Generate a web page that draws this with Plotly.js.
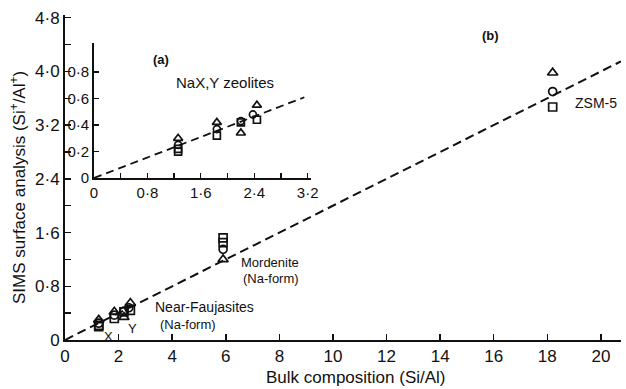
<!DOCTYPE html>
<html><head><meta charset="utf-8">
<script src="https://cdn.plot.ly/plotly-3.0.1.min.js"></script>
<style>html,body{margin:0;padding:0;background:#fff}#chart{width:626px;height:389px}</style>
</head><body><div id="chart"></div>
<script>
// Inset (a): NaX,Y zeolites
const insetTriX = [1.26, 1.84, 2.20, 2.44];
const insetTriY = [0.30, 0.42, 0.34, 0.55];
const insetCirX = [1.26, 1.84, 2.20, 2.38];
const insetCirY = [0.25, 0.37, 0.43, 0.48];
const insetSqX  = [1.26, 1.26, 1.84, 2.20, 2.44];
const insetSqY  = [0.22, 0.20, 0.32, 0.42, 0.44];
const insetFitX = [0, 3.15];
const insetFitY = [0, 0.61];

// Main (b)
const mordX = [5.9, 5.9, 5.9, 5.9];
const mordTriY = [1.20];
const mordCirY = [1.35];
const mordSqY = [1.45, 1.52];
const zsmX = 18.2;
const zsmTriY = [3.98];
const zsmCirY = [3.70];
const zsmSqY = [3.47];
const fitX = [0, 20.75];
const fitY = [0, 4.15];

const mainXTicks = [0,2,4,6,8,10,12,14,16,18,20];
const mainYTicks = [0,0.4,0.8,1.2,1.6,2.0,2.4,2.8,3.2,3.6,4.0,4.4,4.8];
const mainYText  = ['0','','0·8','','1·6','','2·4','','3·2','','4·0','','4·8'];
const insetXTicks = [0,0.4,0.8,1.2,1.6,2.0,2.4,2.8,3.2];
const insetXText  = ['0','','0·8','','1·6','','2·4','','3·2'];
const insetYTicks = [0,0.2,0.4,0.6,0.8];
const insetYText  = ['0','0·2','0·4','0·6','0·8'];

const FONT = 'Liberation Sans, DejaVu Sans, sans-serif';
const NARROW = 'Liberation Sans Narrow, Liberation Sans, sans-serif';
const black = '#111';
function mk(sym, size){ return {symbol: sym, size: size, color: black, line: {color: black, width: 1.7}}; }

const triX = insetTriX.concat([mordX[0], zsmX]);
const triY = insetTriY.concat(mordTriY, zsmTriY);
const cirX = insetCirX.concat([mordX[1], zsmX]);
const cirY = insetCirY.concat(mordCirY, zsmCirY);
const sqX = insetSqX.concat([mordX[2], mordX[3], zsmX]);
const sqY = insetSqY.concat(mordSqY, zsmSqY);

const traces = [
  {x: fitX, y: fitY, mode: 'lines', line: {color: black, width: 2, dash: '9px,5px'}, xaxis: 'x', yaxis: 'y', hoverinfo: 'skip'},
  {x: triX, y: triY, mode: 'markers', marker: mk('triangle-up-open', 9), xaxis: 'x', yaxis: 'y'},
  {x: cirX, y: cirY, mode: 'markers', marker: mk('circle-open', 8), xaxis: 'x', yaxis: 'y'},
  {x: sqX, y: sqY, mode: 'markers', marker: mk('square-open', 8), xaxis: 'x', yaxis: 'y'},
  {x: insetFitX, y: insetFitY, mode: 'lines', line: {color: black, width: 1.8, dash: '8px,5px'}, xaxis: 'x2', yaxis: 'y2'},
  {x: insetTriX, y: insetTriY, mode: 'markers', marker: mk('triangle-up-open', 8), xaxis: 'x2', yaxis: 'y2'},
  {x: insetCirX, y: insetCirY, mode: 'markers', marker: mk('circle-open', 7), xaxis: 'x2', yaxis: 'y2'},
  {x: insetSqX, y: insetSqY, mode: 'markers', marker: mk('square-open', 7), xaxis: 'x2', yaxis: 'y2'}
];

// pixel -> paper helpers (plot area: x 65..621, y 15..340)
const L = 65, R = 621, T = 15, B = 340;
const px = x => (x - L) / (R - L);
const py = y => (B - y) / (B - T);
function ann(text, x, y, size, opts){
  return Object.assign({text: text, x: px(x), y: py(y), xref: 'paper', yref: 'paper', showarrow: false,
    font: {family: FONT, size: size, color: black}, xanchor: 'center', yanchor: 'middle'}, opts || {});
}

const layout = {
  width: 626, height: 389,
  margin: {l: L, r: 626 - R, t: T, b: 389 - B},
  paper_bgcolor: '#fff', plot_bgcolor: '#fff',
  showlegend: false,
  font: {family: FONT, color: black, size: 14},
  xaxis: {range: [0, 20.75], showgrid: false, zeroline: false, showline: true, linecolor: black, linewidth: 2,
    tickmode: 'array', tickvals: mainXTicks, ticktext: mainXTicks.map(String), ticks: 'inside', ticklen: 6, tickwidth: 1.5, tickcolor: black,
    tickfont: {family: NARROW, size: 17, color: black}, domain: [0, 1], anchor: 'y'},
  yaxis: {range: [0, 4.84], showgrid: false, zeroline: false, showline: true, linecolor: black, linewidth: 2,
    tickmode: 'array', tickvals: mainYTicks, ticktext: mainYText, ticks: 'inside', ticklen: 6, tickwidth: 1.5, tickcolor: black,
    tickfont: {family: NARROW, size: 17, color: black}, domain: [0, 1], anchor: 'x'},
  xaxis2: {range: [0, 3.25], domain: [px(94), px(311)], anchor: 'y2', showgrid: false, zeroline: false, showline: true,
    linecolor: black, linewidth: 1.8, tickmode: 'array', tickvals: insetXTicks, ticktext: insetXText, ticks: 'inside',
    ticklen: 5, tickwidth: 1.3, tickcolor: black, tickfont: {family: NARROW, size: 15, color: black}},
  yaxis2: {range: [0, 1.02], domain: [py(178), py(43)], anchor: 'x2', showgrid: false, zeroline: false, showline: true,
    linecolor: black, linewidth: 1.8, tickmode: 'array', tickvals: insetYTicks, ticktext: insetYText, ticks: 'inside',
    ticklen: 5, tickwidth: 1.3, tickcolor: black, tickfont: {family: NARROW, size: 15, color: black}},
  annotations: [
    ann('SIMS surface analysis (Si<sup>+</sup>/Al<sup>+</sup>)', 18, 188, 17, {textangle: -90}),
    ann('Bulk composition (Si/Al)', 356, 377, 17),
    ann('<b>(a)</b>', 161, 60, 13),
    ann('NaX,Y zeolites', 225, 82, 15),
    ann('<b>(b)</b>', 490, 35, 13),
    ann('ZSM-5', 596, 103, 14),
    ann('Mordenite', 270, 262, 13),
    ann('(Na-form)', 271, 278, 13),
    ann('Near-Faujasites', 204, 307, 14),
    ann('(Na-form)', 188, 324, 13),
    ann('X', 108, 336, 13),
    ann('Y', 132, 328, 13)
  ]
};

Plotly.newPlot('chart', traces, layout, {staticPlot: true, displayModeBar: false});
</script></body></html>
